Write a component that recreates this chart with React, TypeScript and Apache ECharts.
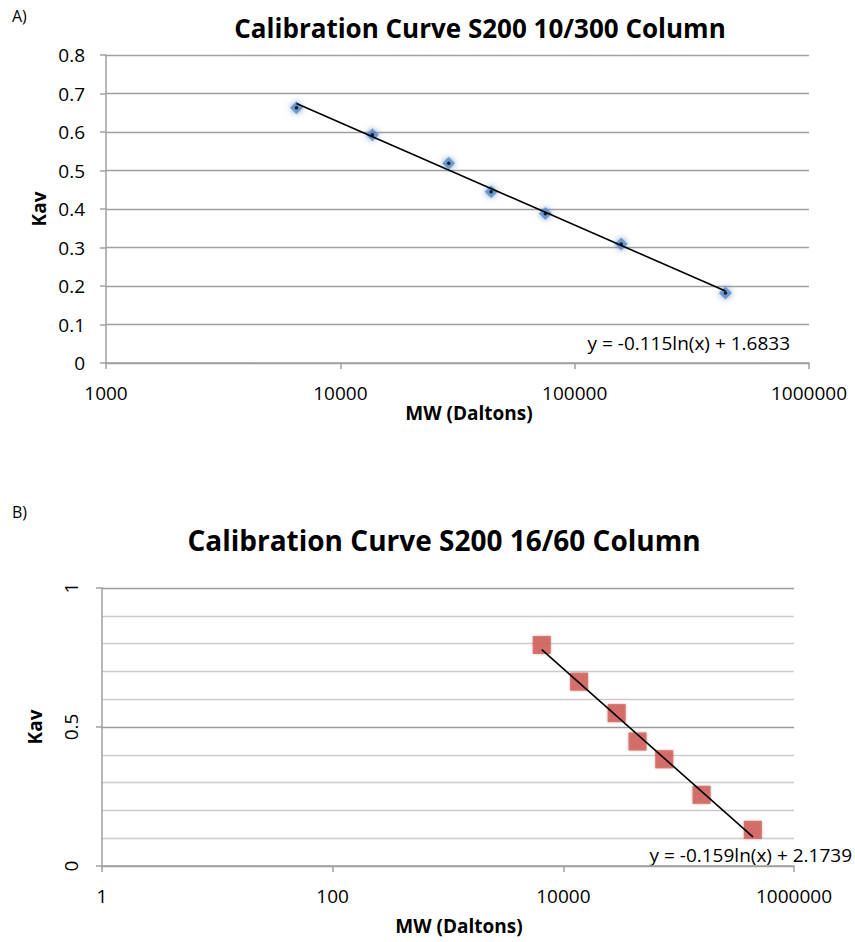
import React, { useEffect, useRef } from "react";
import * as echarts from "echarts";

// Molecular weights of the calibration standards (Daltons)
const mwA = [6500, 13700, 29000, 44000, 75000, 158000, 440000];
const kavA = [0.663, 0.593, 0.519, 0.445, 0.388, 0.309, 0.182];
const trendA: [number, number][] = [
  [6500, 0.674],
  [440000, 0.187],
];
const eqA = "y = -0.115ln(x) + 1.6833";
const titleA = "Calibration Curve S200 10/300 Column";

const mwB = [6500, 13700, 29000, 44000, 75000, 158000, 440000];
const kavB = [0.795, 0.663, 0.55, 0.448, 0.384, 0.256, 0.13];
const trendB: [number, number][] = [
  [6500, 0.778],
  [440000, 0.105],
];
const eqB = "y = -0.159ln(x) + 2.1739";
const titleB = "Calibration Curve S200 16/60 Column";

const xNameText = "MW (Daltons)";
const yNameText = "Kav";

const FONT = "'Open Sans', 'Liberation Sans', sans-serif";
const AXIS_GRAY = "#a0a0a0";

export default function App() {
  const ref = useRef<HTMLDivElement>(null);

  useEffect(() => {
    if (!ref.current) return;
    const chart = echarts.init(ref.current, undefined, { renderer: "svg" });
    const fmt = (v: number) => String(Math.round(v));
    const tickLabel = { color: "#000", fontFamily: FONT, fontSize: 19 };

    chart.setOption({
      animation: false,
      backgroundColor: "#fff",
      grid: [
        { left: 106, top: 55, width: 703, height: 308, containLabel: false },
        { left: 102, top: 588, width: 692, height: 278, containLabel: false },
      ],
      xAxis: [
        {
          gridIndex: 0,
          type: "log",
          logBase: 10,
          min: 1000,
          max: 1000000,
          splitNumber: 3,
          axisLine: { show: true, lineStyle: { color: AXIS_GRAY, width: 1.5 } },
          axisTick: { show: true, length: 6, lineStyle: { color: AXIS_GRAY, width: 1.5 } },
          axisLabel: { ...tickLabel, margin: 20, formatter: fmt },
          splitLine: { show: false },
          minorTick: { show: false },
        },
        {
          gridIndex: 1,
          type: "log",
          logBase: 100,
          min: 1,
          max: 1000000,
          splitNumber: 3,
          axisLine: { show: true, lineStyle: { color: AXIS_GRAY, width: 1.5 } },
          axisTick: { show: true, length: 6, lineStyle: { color: AXIS_GRAY, width: 1.5 } },
          axisLabel: { ...tickLabel, margin: 20, formatter: fmt },
          splitLine: { show: false },
          minorTick: { show: false },
        },
      ],
      yAxis: [
        {
          gridIndex: 0,
          type: "value",
          min: 0,
          max: 0.8,
          interval: 0.1,
          axisLine: { show: true, lineStyle: { color: AXIS_GRAY, width: 1.5 } },
          axisTick: { show: true, length: 6, lineStyle: { color: AXIS_GRAY, width: 1.5 } },
          axisLabel: {
            ...tickLabel,
            margin: 21,
            formatter: (v: number) => String(Math.round(v * 10) / 10),
          },
          splitLine: { show: true, lineStyle: { color: AXIS_GRAY, width: 1.4 } },
        },
        {
          gridIndex: 1,
          type: "value",
          min: 0,
          max: 1,
          interval: 0.5,
          axisLine: { show: true, lineStyle: { color: AXIS_GRAY, width: 1.5 } },
          axisTick: { show: true, length: 6, lineStyle: { color: AXIS_GRAY, width: 1.5 } },
          axisLabel: {
            ...tickLabel,
            margin: 22,
            rotate: 90,
            formatter: (v: number) => String(Math.round(v * 10) / 10),
          },
          splitLine: { show: true, lineStyle: { color: "#9a9a9a", width: 1.4 } },
          minorTick: { show: false, splitNumber: 5 },
          minorSplitLine: { show: true, lineStyle: { color: "#cccccc", width: 1.4 } },
        },
      ],
      series: [
        {
          type: "scatter",
          xAxisIndex: 0,
          yAxisIndex: 0,
          symbol: "diamond",
          symbolSize: 13,
          data: mwA.map((m, i) => [m, kavA[i]]),
          itemStyle: {
            color: "#5a8cc8",
            shadowBlur: 6,
            shadowColor: "rgba(74,126,187,0.9)",
          },
          z: 2,
        },
        {
          type: "scatter",
          xAxisIndex: 0,
          yAxisIndex: 0,
          symbol: "circle",
          symbolSize: 3.5,
          data: mwA.map((m, i) => [m, kavA[i]]),
          itemStyle: { color: "#000" },
          z: 4,
        },
        {
          type: "line",
          xAxisIndex: 0,
          yAxisIndex: 0,
          data: trendA,
          showSymbol: false,
          lineStyle: { color: "#000", width: 1.6 },
          z: 3,
        },
        {
          type: "scatter",
          xAxisIndex: 1,
          yAxisIndex: 1,
          symbol: "rect",
          symbolSize: 18,
          data: mwB.map((m, i) => [m, kavB[i]]),
          itemStyle: {
            color: "#d0615b",
            shadowBlur: 2,
            shadowColor: "rgba(200,90,85,0.7)",
          },
          z: 2,
        },
        {
          type: "line",
          xAxisIndex: 1,
          yAxisIndex: 1,
          data: trendB,
          showSymbol: false,
          lineStyle: { color: "#000", width: 1.6 },
          z: 3,
        },
      ],
      graphic: [
        {
          type: "text",
          left: 12,
          top: 8,
          style: { text: "A)", fontFamily: FONT, fontSize: 16, fill: "#000" },
        },
        {
          type: "text",
          x: 480,
          y: 28,
          style: {
            text: titleA,
            fontFamily: FONT,
            fontWeight: "bold",
            fontSize: 26,
            fill: "#000",
            align: "center",
            verticalAlign: "middle",
          },
        },
        {
          type: "text",
          x: 39,
          y: 209,
          rotation: Math.PI / 2,
          style: {
            text: yNameText,
            fontFamily: FONT,
            fontWeight: "bold",
            fontSize: 19,
            fill: "#000",
            align: "center",
            verticalAlign: "middle",
          },
        },
        {
          type: "text",
          x: 469,
          y: 413,
          style: {
            text: xNameText,
            fontFamily: FONT,
            fontWeight: "bold",
            fontSize: 19,
            fill: "#000",
            align: "center",
            verticalAlign: "middle",
          },
        },
        {
          type: "text",
          x: 790,
          y: 343,
          style: {
            text: eqA,
            fontFamily: FONT,
            fontSize: 19,
            fill: "#000",
            align: "right",
            verticalAlign: "middle",
          },
        },
        {
          type: "text",
          left: 12,
          top: 504,
          style: { text: "B)", fontFamily: FONT, fontSize: 16, fill: "#000" },
        },
        {
          type: "text",
          x: 444,
          y: 540,
          style: {
            text: titleB,
            fontFamily: FONT,
            fontWeight: "bold",
            fontSize: 28,
            fill: "#000",
            align: "center",
            verticalAlign: "middle",
          },
        },
        {
          type: "text",
          x: 35,
          y: 727,
          rotation: Math.PI / 2,
          style: {
            text: yNameText,
            fontFamily: FONT,
            fontWeight: "bold",
            fontSize: 19,
            fill: "#000",
            align: "center",
            verticalAlign: "middle",
          },
        },
        {
          type: "text",
          x: 459,
          y: 926,
          style: {
            text: xNameText,
            fontFamily: FONT,
            fontWeight: "bold",
            fontSize: 19,
            fill: "#000",
            align: "center",
            verticalAlign: "middle",
          },
        },
        {
          type: "text",
          x: 852,
          y: 855,
          style: {
            text: eqB,
            fontFamily: FONT,
            fontSize: 19,
            fill: "#000",
            align: "right",
            verticalAlign: "middle",
          },
        },
      ],
    });

    return () => chart.dispose();
  }, []);

  return (
    <div
      ref={ref}
      style={{ position: "fixed", left: 0, top: 0, width: 855, height: 942, background: "#fff" }}
    />
  );
}
